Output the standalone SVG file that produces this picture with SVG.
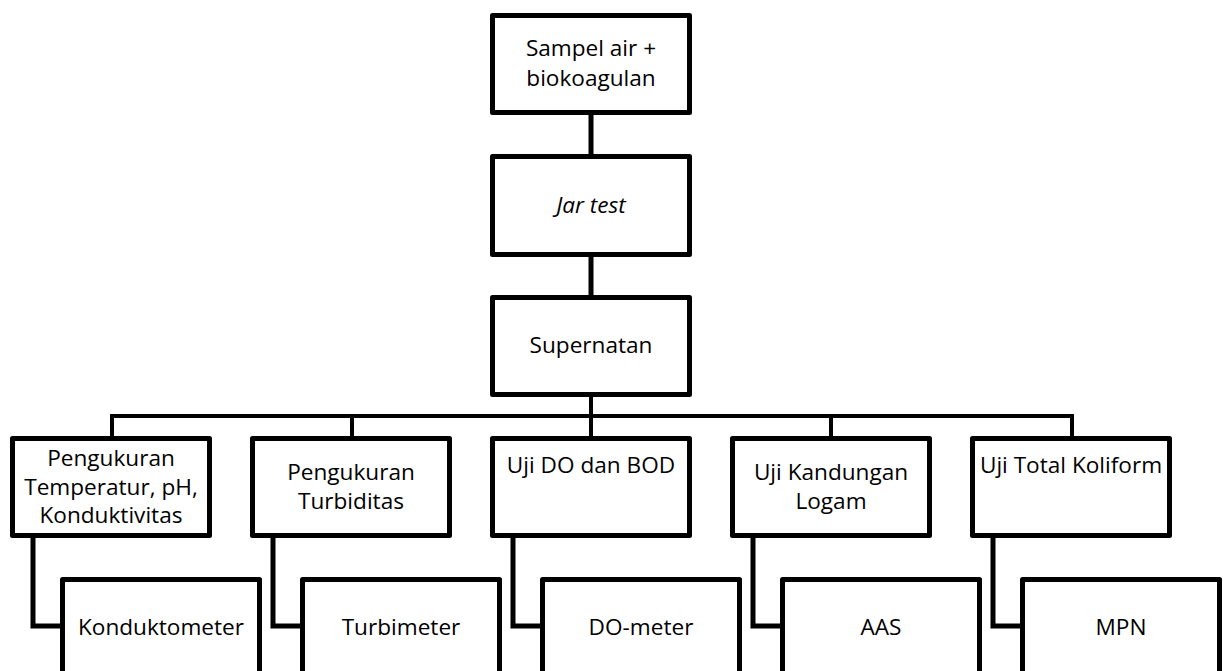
<svg xmlns="http://www.w3.org/2000/svg" width="1223" height="671" viewBox="0 0 1223 671">
<style>
.box{fill:#fff;stroke:#000;stroke-width:5;stroke-linejoin:round}
.t{font-family:"Open Sans","Liberation Sans",sans-serif;font-size:22.6px;fill:#000;text-anchor:middle}
.c{fill:none;stroke:#000;stroke-width:5;stroke-linejoin:miter}
.bar{fill:none;stroke:#000;stroke-width:4}
</style>
<rect width="1223" height="671" fill="#fff"/>
<g id="connectors">
<path class="c" d="M591 113V156M591 255V297"/>
<path class="bar" d="M112 438V416H1072V438M352 416V438M591 395V438M831 416V438"/>
<path class="c" d="M33 535V626H62M273 535V626H302M513 535V626H542M753 535V626H782M993 535V626H1022"/>
</g>
<g id="n-sampel"><rect class="box" x="492.5" y="15.5" width="197" height="97"/><text class="t" x="591" y="56">Sampel air +</text><text class="t" x="591" y="86">biokoagulan</text></g>
<g id="n-jar"><rect class="box" x="492.5" y="156.5" width="197" height="98"/><text class="t" x="591" y="213" font-style="italic">Jar test</text></g>
<g id="n-supernatan"><rect class="box" x="492.5" y="297.5" width="197" height="97"/><text class="t" x="591" y="353">Supernatan</text></g>
<g id="n-suhu"><rect class="box" x="12.5" y="438.5" width="197" height="97"/><text class="t" x="111" y="466">Pengukuran</text><text class="t" x="111" y="495">Temperatur, pH,</text><text class="t" x="111" y="523">Konduktivitas</text></g>
<g id="n-turb"><rect class="box" x="252.5" y="438.5" width="197" height="97"/><text class="t" x="351" y="480">Pengukuran</text><text class="t" x="351" y="509">Turbiditas</text></g>
<g id="n-do"><rect class="box" x="492.5" y="438.5" width="197" height="97"/><text class="t" x="591" y="473">Uji DO dan BOD</text></g>
<g id="n-logam"><rect class="box" x="732.5" y="438.5" width="197" height="97"/><text class="t" x="831" y="480">Uji Kandungan</text><text class="t" x="831" y="509">Logam</text></g>
<g id="n-koli"><rect class="box" x="972.5" y="438.5" width="197" height="97"/><text class="t" x="1071" y="473">Uji Total Koliform</text></g>
<g id="n-kond"><rect class="box" x="62.5" y="579.5" width="197" height="120"/><text class="t" x="161" y="635">Konduktometer</text></g>
<g id="n-turbi"><rect class="box" x="302.5" y="579.5" width="197" height="120"/><text class="t" x="401" y="635">Turbimeter</text></g>
<g id="n-dom"><rect class="box" x="542.5" y="579.5" width="197" height="120"/><text class="t" x="641" y="635">DO-meter</text></g>
<g id="n-aas"><rect class="box" x="782.5" y="579.5" width="197" height="120"/><text class="t" x="881" y="635">AAS</text></g>
<g id="n-mpn"><rect class="box" x="1022.5" y="579.5" width="197" height="120"/><text class="t" x="1121" y="635">MPN</text></g>
</svg>
